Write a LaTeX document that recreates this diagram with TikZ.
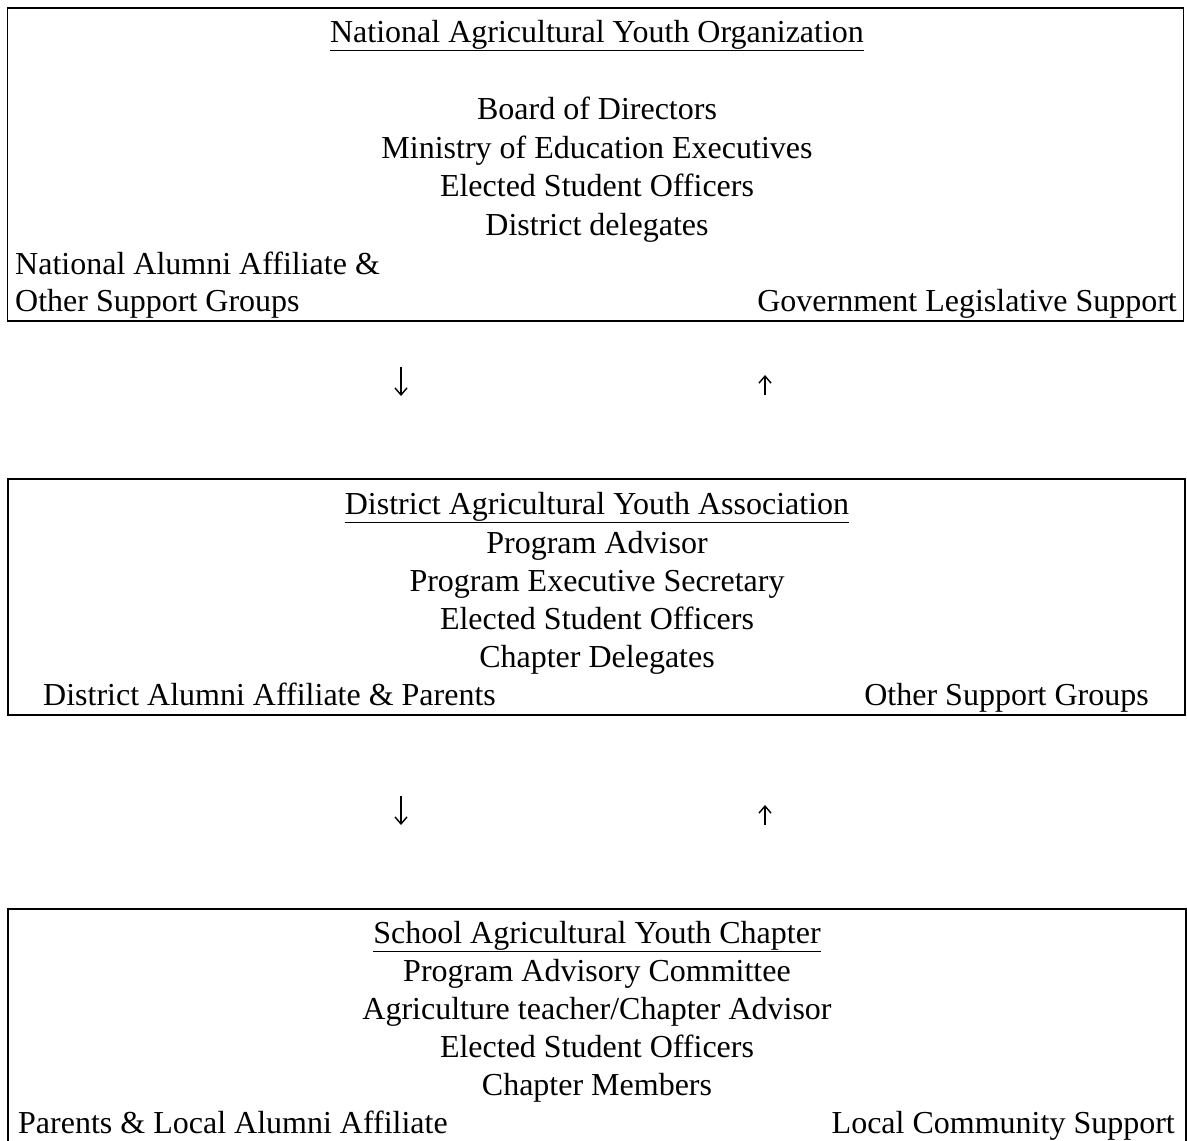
\documentclass[tikz,border=0pt]{standalone}
\usepackage{fontspec}
\setmainfont{Liberation Serif}
\usetikzlibrary{arrows.meta}
\begin{document}
\begin{tikzpicture}[x=1pt,y=-1pt,
  txt/.style={anchor=base, inner sep=0pt, font=\fontsize{32}{38}\selectfont},
  txtl/.style={txt, anchor=base west},
  txtr/.style={txt, anchor=base east},
  boxst/.style={draw, line width=1.8pt, inner sep=0pt},
  openbox/.style={inner sep=0pt},
  flow/.style={line width=1.4pt, -{Straight Barb[length=7pt,width=12pt]}}
]
\useasboundingbox (0,0) rectangle (1187,1141);
% boxes
\node[boxst, minimum width=1176pt, minimum height=313pt] (nat) at (595.5,164.5) {};
\node[boxst, minimum width=1177pt, minimum height=236pt] (dis) at (596.5,597) {};
\node[openbox, minimum width=1178pt, minimum height=240pt] (sch) at (597,1029) {};
\draw[line width=1.8pt] (sch.south west) -- (sch.north west) -- (sch.north east) -- (sch.south east);

% national texts
\node[txt] (n0) at (597,42) {\underline{National Agricultural Youth Organization}};
\node[txt] (n1) at (597,119) {Board of Directors};
\node[txt] (n2) at (597,158) {Ministry of Education Executives};
\node[txt] (n3) at (597,196) {Elected Student Officers};
\node[txt] (n4) at (597,235) {District delegates};
\node[txtl] (n5) at (15,274) {National Alumni Affiliate \&};
\node[txtl] (n6) at (15,311) {Other Support Groups};
\node[txtr] (n7) at (1177,311) {Government Legislative Support};

% district texts
\node[txt] (d0) at (597,514) {\underline{District Agricultural Youth Association}};
\node[txt] (d1) at (597,553) {Program Advisor};
\node[txt] (d2) at (597,591) {Program Executive Secretary};
\node[txt] (d3) at (597,629) {Elected Student Officers};
\node[txt] (d4) at (597,667) {Chapter Delegates};
\node[txtl] (d5) at (43,705) {District Alumni Affiliate \& Parents};
\node[txtr] (d6) at (1149,705) {Other Support Groups};

% school texts
\node[txt] (s0) at (597,943) {\underline{School Agricultural Youth Chapter}};
\node[txt] (s1) at (597,981) {Program Advisory Committee};
\node[txt] (s2) at (597,1019) {Agriculture teacher/Chapter Advisor};
\node[txt] (s3) at (597,1057) {Elected Student Officers};
\node[txt] (s4) at (597,1095) {Chapter Members};
\node[txtl] (s5) at (18,1133) {Parents \& Local Alumni Affiliate};
\node[txtr] (s6) at (1175,1133) {Local Community Support};

% arrows
\coordinate (a1s) at (401,367); \coordinate (a1e) at (401,396);
\coordinate (b1s) at (765,395); \coordinate (b1e) at (765,375);
\coordinate (a2s) at (401,796); \coordinate (a2e) at (401,825);
\coordinate (b2s) at (765,825); \coordinate (b2e) at (765,805);
\draw[flow] (a1s) -- (a1e);
\draw[flow] (b1s) -- (b1e);
\draw[flow] (a2s) -- (a2e);
\draw[flow] (b2s) -- (b2e);
\end{tikzpicture}
\end{document}
